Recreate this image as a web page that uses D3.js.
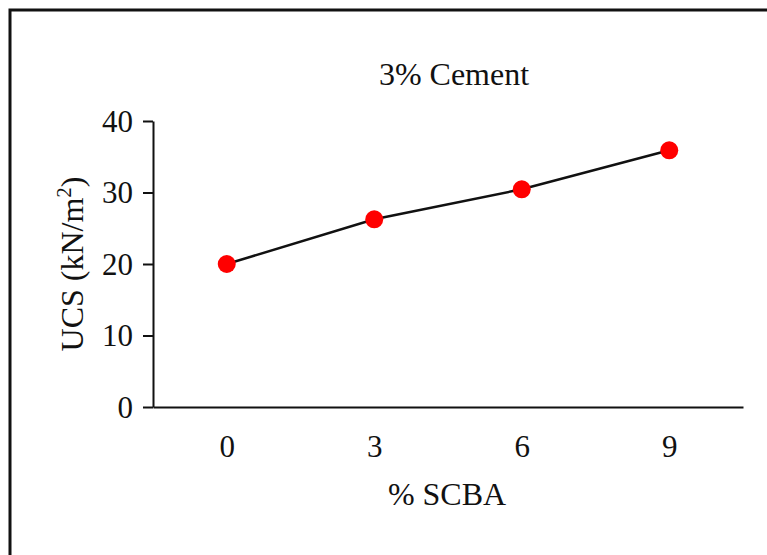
<!DOCTYPE html>
<html>
<head>
<meta charset="utf-8">
<script src="https://cdn.jsdelivr.net/npm/d3@7"></script>
<style>
  html, body { margin: 0; padding: 0; background: #fff; }
  svg { display: block; }
  svg text { font-family: "Liberation Serif", "Times New Roman", serif; }
</style>
</head>
<body>
<svg id="chart" width="767" height="555"></svg>
<script>
// chart data
var scbaLevels = ['0', '3', '6', '9'];
var ucsValues = [20.0, 26.25, 30.45, 35.9];
var yTicks = [0, 10, 20, 30, 40];
var chartTitle = '3% Cement';
var xTitle = '% SCBA';

var serif = '"Liberation Serif", "Times New Roman", serif';
var svg = d3.select('#chart');

// outer frame, runs off the right and bottom edges
svg.append('rect')
	.attr('x', 10).attr('y', 10)
	.attr('width', 800).attr('height', 600)
	.attr('fill', 'none')
	.attr('stroke', '#111')
	.attr('stroke-width', 3);

var plot = { left: 153, right: 743, top: 121, bottom: 407 };

var x = d3.scalePoint()
	.domain(scbaLevels)
	.range([plot.left, plot.right])
	.padding(0.5);

var y = d3.scaleLinear()
	.domain([0, 40])
	.range([plot.bottom, plot.top]);

// y axis
var yAxis = svg.append('g')
	.attr('transform', 'translate(' + plot.left + ',0)')
	.call(d3.axisLeft(y).tickValues(yTicks).tickSize(10).tickPadding(10).tickSizeOuter(0));
yAxis.attr('font-family', serif);
yAxis.select('.domain').attr('stroke', '#111').attr('stroke-width', 2);
yAxis.selectAll('.tick line').attr('stroke', '#111').attr('stroke-width', 2);
yAxis.selectAll('.tick text')
	.attr('fill', '#111')
	.style('font-size', '31px')
	.style('font-family', serif)
	.attr('dy', '0.33em');

// x axis - only the baseline, labels sit below without ticks
var xAxis = svg.append('g')
	.attr('transform', 'translate(0,' + plot.bottom + ')')
	.call(d3.axisBottom(x).tickSize(0).tickPadding(0).tickSizeOuter(0));
xAxis.attr('font-family', serif);
xAxis.select('.domain').attr('stroke', '#111').attr('stroke-width', 2);
xAxis.selectAll('.tick text')
	.attr('fill', '#111')
	.attr('y', 50)
	.attr('dy', 0)
	.style('font-size', '31px')
	.style('font-family', serif);

// series line
var pts = scbaLevels.map(function(d, i) { return { k: d, v: ucsValues[i] }; });
var line = d3.line()
	.x(function(d) { return x(d.k); })
	.y(function(d) { return y(d.v); });

svg.append('path')
	.datum(pts)
	.attr('d', line)
	.attr('fill', 'none')
	.attr('stroke', '#111')
	.attr('stroke-width', 2.5);

svg.selectAll('circle.pt')
	.data(pts)
	.enter().append('circle')
	.attr('class', 'pt')
	.attr('cx', function(d) { return x(d.k); })
	.attr('cy', function(d) { return y(d.v); })
	.attr('r', 9)
	.attr('fill', '#ff0000');

// titles
svg.append('text')
	.attr('x', 454).attr('y', 85)
	.attr('text-anchor', 'middle')
	.attr('fill', '#111')
	.style('font-family', serif)
	.style('font-size', '32px')
	.text(chartTitle);

svg.append('text')
	.attr('x', 447).attr('y', 505)
	.attr('text-anchor', 'middle')
	.attr('fill', '#111')
	.style('font-family', serif)
	.style('font-size', '32px')
	.text(xTitle);

var yt = svg.append('text')
	.attr('transform', 'translate(83,264) rotate(-90)')
	.attr('text-anchor', 'middle')
	.attr('fill', '#111')
	.style('font-family', serif)
	.style('font-size', '32px');
yt.append('tspan').text('UCS (kN/m');
yt.append('tspan').attr('dy', -12).style('font-size', '21px').text('2');
yt.append('tspan').attr('dy', 12).text(')');
</script>
</body>
</html>
